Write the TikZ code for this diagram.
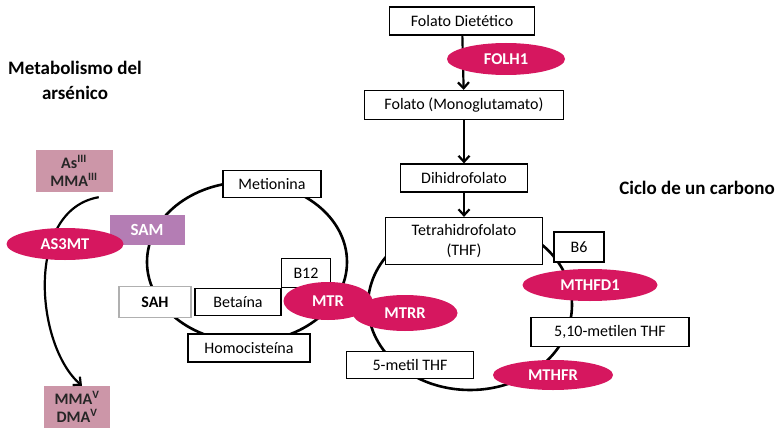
\documentclass[tikz,border=0pt]{standalone}
\usepackage{fontspec}
\setmainfont{Carlito}
\usetikzlibrary{shapes.geometric, arrows.meta, positioning, calc}
\definecolor{enzymePink}{HTML}{D6175F}
\definecolor{samPurple}{HTML}{B47DB4}
\definecolor{arsenPink}{HTML}{CC96A8}
\definecolor{sahGray}{HTML}{B0B0B0}
\newcommand{\DrawCycle}[4]{
    \draw[cycleLine] (#1,#2) ellipse [x radius=#3, y radius=#4];
}
\tikzset{
    % Cycles and arrows
    cycleLine/.style={line width=2.6pt, draw=black},
    arrowStep/.style={-{Straight Barb[length=6pt, width=11pt]}, line width=2.2pt},
    % Boxes
    metBox/.style={rectangle, draw=black, fill=white, line width=1.2pt, inner sep=0pt,
        font=\fontsize{16}{20}\selectfont, align=center},
    arsenBox/.style={rectangle, fill=arsenPink, inner sep=0pt, align=center,
        font=\bfseries\fontsize{16}{18}\selectfont, text=black!85},
    samBox/.style={rectangle, fill=samPurple, inner sep=0pt, text=white,
        font=\bfseries\fontsize{17}{20}\selectfont},
    % Enzymes
    enzyme/.style={ellipse, fill=enzymePink, inner sep=0pt, text=white,
        font=\bfseries\fontsize{16.5}{20}\selectfont},
    titleText/.style={font=\bfseries\fontsize{19}{25}\selectfont, align=center}
}
\begin{document}
\begin{tikzpicture}[x=1pt, y=-1pt]
    \useasboundingbox (0,0) rectangle (779,428);
    % the two cycles
    \DrawCycle{247}{262}{100}{80}
    \DrawCycle{470}{305}{102}{85}
    % titles
    \node[titleText] (titleArsen) at (75,80) {Metabolismo del\\arsénico};
    \node[titleText] (titleCiclo) at (697,188) {Ciclo de un carbono};
    % folate pathway
    \node[metBox, minimum width=145, minimum height=28] (folDiet) at (462,21) {Folato Dietético};
    \node[metBox, minimum width=199, minimum height=29] (folMono) at (464,105) {Folato (Monoglutamato)};
    \node[metBox, minimum width=127, minimum height=28] (dihidro) at (464,178) {Dihidrofolato};
    \node[metBox, minimum width=157, minimum height=47] (tetra) at (464,241) {Tetrahidrofolato\\(THF)};
    \node[metBox, minimum width=50, minimum height=30] (vitB6) at (579,247) {B6};
    \node[metBox, minimum width=158, minimum height=29] (metilen) at (610,332) {5,10-metilen THF};
    \node[metBox, minimum width=127, minimum height=27] (metilThf) at (410,365) {5-metil THF};
    % methionine cycle
    \node[metBox, minimum width=98, minimum height=27] (metionina) at (272,184) {Metionina};
    \node[metBox, minimum width=49, minimum height=29] (vitB12) at (306,273) {B12};
    \node[metBox, minimum width=86, minimum height=27] (betaina) at (238,302) {Betaína};
    \node[metBox, minimum width=122, minimum height=28] (homocis) at (249,348) {Homocisteína};
    \node[metBox, draw=sahGray, font=\bfseries\fontsize{16}{18}\selectfont,
        minimum width=72, minimum height=31] (sah) at (155,302) {SAH};
    \node[samBox, minimum width=75, minimum height=30] (sam) at (147,230) {SAM};
    % arsenic
    \node[arsenBox, minimum width=77, minimum height=42] (asTop) at (74,171) {As\textsuperscript{III}\\MMA\textsuperscript{III}};
    \node[arsenBox, minimum width=66, minimum height=42] (asBottom) at (77,407) {MMA\textsuperscript{V}\\DMA\textsuperscript{V}};
    % arrows
    \draw[arrowStep] (folDiet) -- (folMono);
    \draw[arrowStep] (folMono) -- (dihidro);
    \draw[arrowStep] (dihidro) -- (tetra);
    \draw[arrowStep] ([xshift=-14pt, yshift=-5pt]asTop.south east)
        .. controls (25,210) and (35,345) .. ([xshift=5pt]asBottom.north);
    % enzymes on top
    \node[enzyme, minimum width=118, minimum height=32] (folh) at (506,59) {FOLH1};
    \node[enzyme, minimum width=117, minimum height=32] (as3mt) at (65,244) {AS3MT};
    \node[enzyme, minimum width=105, minimum height=36] (mtrr) at (405,313) {MTRR};
    \node[enzyme, minimum width=89, minimum height=38] (mtr) at (328,301) {MTR};
    \node[enzyme, minimum width=135, minimum height=32] (mthfd) at (590,285) {MTHFD1};
    \node[enzyme, minimum width=120, minimum height=30] (mthfr) at (553,375) {MTHFR};
\end{tikzpicture}
\end{document}
